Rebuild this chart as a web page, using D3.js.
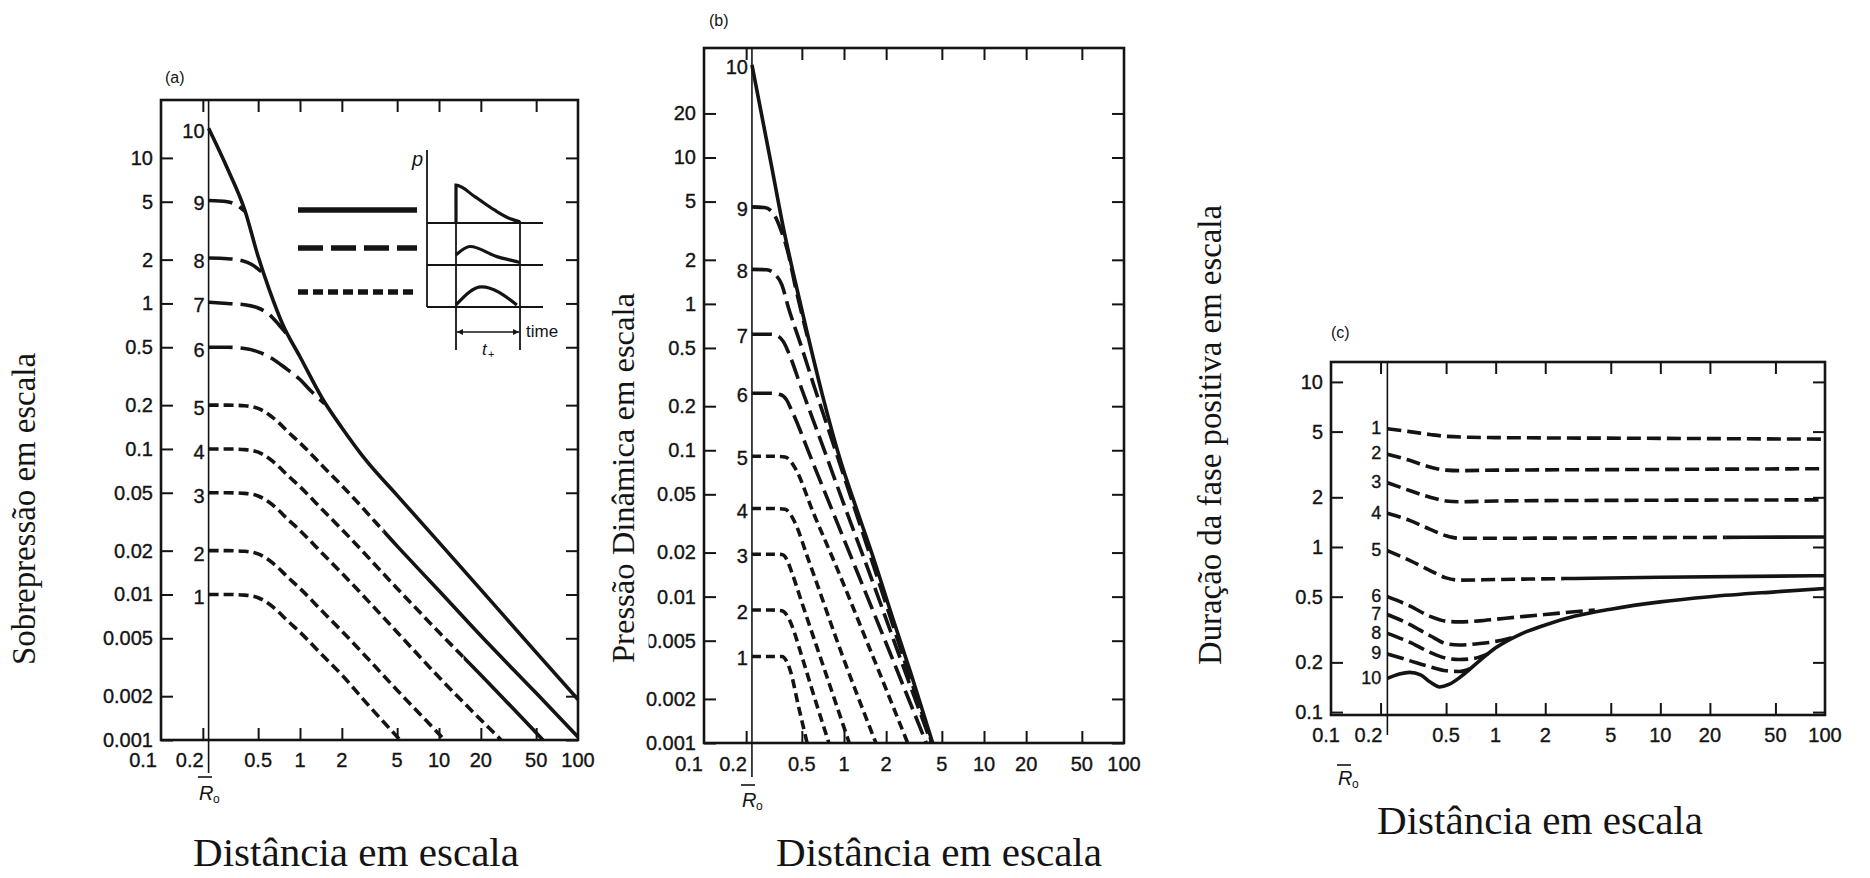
<!DOCTYPE html>
<html>
<head>
<meta charset="utf-8">
<script src="https://cdn.jsdelivr.net/npm/d3@7"></script>
<style>
  html, body { margin: 0; padding: 0; background: #fff; }
  svg { display: block; }
  .num { font-family: "Liberation Sans", Arial, sans-serif; font-size: 20px; fill: #141414; stroke: #141414; stroke-width: 0.35px; }
  .title { font-family: "Liberation Serif", "Times New Roman", serif; fill: #141414; }
  .small { font-family: "Liberation Sans", Arial, sans-serif; fill: #141414; }
</style>
</head>
<body>
<svg id="chart" width="1870" height="878"></svg>
<script>
// ---------- data ----------
const scaledRadius = 0.22;                       // R̄o, start of every curve
const curveNames = ["1","2","3","4","5","6","7","8","9","10"];
const distanceTicks = [0.1, 0.2, 0.5, 1, 2, 5, 10, 20, 50, 100];
const overpressureTicks = [10, 5, 2, 1, 0.5, 0.2, 0.1, 0.05, 0.02, 0.01, 0.005, 0.002, 0.001];
const dynamicTicks = [20, 10, 5, 2, 1, 0.5, 0.2, 0.1, 0.05, 0.02, 0.01, 0.005, 0.002, 0.001];
const durationTicks = [10, 5, 2, 1, 0.5, 0.2, 0.1];

// (a) scaled overpressure vs scaled distance
const overpressure = [
  [[0.22,0.01],[0.3,0.01],[0.4,0.0099],[0.5,0.0095],[0.6,0.0086],[0.7,0.0076],[0.8,0.0067],[1,0.0055],[1.5,0.0037],[2,0.0028],[3,0.0018],[5.25,0.001]],
  [[0.22,0.02],[0.3,0.02],[0.4,0.0198],[0.5,0.019],[0.6,0.0172],[0.7,0.0152],[0.8,0.0134],[1,0.011],[1.5,0.0074],[2,0.0056],[5,0.0022],[11,0.001]],
  [[0.22,0.05],[0.3,0.05],[0.4,0.0495],[0.5,0.0475],[0.6,0.043],[0.7,0.038],[0.8,0.0335],[1,0.0275],[1.5,0.0185],[2,0.014],[5,0.0055],[10,0.0027],[28,0.001]],
  [[0.22,0.1],[0.3,0.1],[0.4,0.099],[0.5,0.095],[0.6,0.086],[0.7,0.076],[0.8,0.067],[1,0.055],[1.5,0.037],[2,0.028],[5,0.011],[10,0.0055],[20,0.0028],[56,0.001]],
  [[0.22,0.2],[0.3,0.2],[0.4,0.198],[0.5,0.19],[0.6,0.172],[0.7,0.152],[0.8,0.134],[1,0.11],[1.5,0.074],[2,0.056],[5,0.0215],[10,0.0106],[20,0.0052],[50,0.0021],[100,0.00105]],
  [[0.22,0.5],[0.3,0.5],[0.4,0.49],[0.5,0.465],[0.6,0.43],[0.8,0.355],[1,0.3],[1.2,0.25],[1.5,0.205]],
  [[0.22,1.02],[0.3,1.0],[0.4,0.98],[0.5,0.93],[0.6,0.84],[0.7,0.72],[0.8,0.62]],
  [[0.22,2.05],[0.3,2.03],[0.38,1.97],[0.45,1.85],[0.5,1.72],[0.55,1.6]],
  [[0.22,5.1],[0.3,5.0],[0.35,4.75],[0.4,4.3]],
  [[0.22,16],[0.3,8.5],[0.4,4.4],[0.5,2.1],[0.6,1.25],[0.75,0.72],[1,0.43],[1.5,0.21],[2,0.14],[3,0.083],[5,0.048],[10,0.0228],[20,0.0108],[50,0.004],[100,0.0019]]
];

// (b) scaled dynamic pressure vs scaled distance
const dynamicPressure = [
  [[0.22,0.0039],[0.3,0.0039],[0.36,0.0039],[0.39,0.0036],[0.41,0.0032],[0.475,0.00175],[0.545,0.001]],
  [[0.22,0.0081],[0.3,0.0081],[0.36,0.008],[0.39,0.0075],[0.42,0.0065],[0.5,0.0039],[0.61,0.0021],[0.78,0.001]],
  [[0.22,0.0195],[0.3,0.0195],[0.36,0.0194],[0.39,0.018],[0.42,0.015],[0.5,0.0091],[0.74,0.003],[1.09,0.001]],
  [[0.22,0.04],[0.3,0.04],[0.38,0.0395],[0.41,0.037],[0.44,0.033],[0.56,0.0176],[0.97,0.004],[1.69,0.001]],
  [[0.22,0.091],[0.3,0.091],[0.38,0.09],[0.42,0.083],[0.45,0.075],[0.6,0.038],[0.87,0.0165],[1.5,0.0046],[2.85,0.001]],
  [[0.22,0.245],[0.3,0.245],[0.35,0.24],[0.39,0.22],[0.42,0.19],[0.6,0.082],[1.2,0.016],[2,0.0048],[3.87,0.001]],
  [[0.22,0.62],[0.3,0.62],[0.34,0.6],[0.37,0.55],[0.4,0.47],[0.5,0.26],[0.7,0.109],[1,0.0425],[1.5,0.015],[2.6,0.0035],[4.2,0.001]],
  [[0.22,1.72],[0.28,1.71],[0.32,1.6],[0.36,1.35],[0.4,0.95],[0.5,0.5],[0.6,0.29],[0.88,0.096],[1.6,0.017],[3,0.0027],[4.25,0.001]],
  [[0.22,4.6],[0.27,4.55],[0.31,4.2],[0.35,3.3],[0.4,2.2],[0.45,1.3],[0.5,0.85],[0.547,0.6]],
  [[0.22,43],[0.3,9.3],[0.374,3.1],[0.45,1.4],[0.547,0.63],[0.7,0.24],[0.94,0.086],[1.25,0.038],[1.64,0.0178],[2.2,0.0074],[3,0.003],[4.3,0.001]]
];

// (c) scaled positive-phase duration vs scaled distance
const positiveDuration = [
  [[0.22,5.2],[0.3,5.0],[0.4,4.8],[0.5,4.68],[0.7,4.62],[1,4.6],[10,4.55],[100,4.5]],
  [[0.22,3.65],[0.3,3.35],[0.4,3.05],[0.5,2.92],[0.6,2.9],[1,2.92],[10,2.95],[100,2.98]],
  [[0.22,2.45],[0.3,2.2],[0.4,2.0],[0.5,1.9],[0.6,1.88],[1,1.9],[10,1.92],[100,1.93]],
  [[0.22,1.6],[0.3,1.45],[0.4,1.28],[0.5,1.17],[0.6,1.13],[1,1.13],[10,1.14],[100,1.15]],
  [[0.22,0.95],[0.3,0.83],[0.4,0.72],[0.5,0.65],[0.6,0.63],[1,0.635],[3,0.645],[10,0.655],[100,0.67]],
  [[0.22,0.5],[0.3,0.44],[0.4,0.38],[0.5,0.355],[0.6,0.352],[0.8,0.357],[1,0.365],[1.5,0.38],[2,0.39],[3,0.405],[4,0.415]],
  [[0.22,0.39],[0.3,0.34],[0.4,0.29],[0.5,0.26],[0.6,0.255],[0.8,0.26],[1,0.268],[1.3,0.285]],
  [[0.22,0.3],[0.3,0.265],[0.4,0.23],[0.5,0.212],[0.6,0.208],[0.75,0.212],[0.9,0.225]],
  [[0.22,0.225],[0.3,0.205],[0.4,0.188],[0.5,0.178],[0.6,0.176],[0.7,0.183]],
  [[0.22,0.16],[0.26,0.17],[0.3,0.174],[0.35,0.168],[0.4,0.152],[0.456,0.142],[0.52,0.147],[0.62,0.165],[0.8,0.205],[1,0.245],[1.4,0.295],[2,0.337],[3,0.38],[5,0.42],[10,0.465],[20,0.5],[50,0.535],[100,0.56]]
];

// pressure–time shapes in the legend of (a): [time fraction, relative pressure]
const shockWave    = [[0,0.9],[0.3,0.62],[0.6,0.31],[0.85,0.1],[1,0.03]];
const rampedWave   = [[0,0.24],[0.22,0.44],[0.64,0.2],[0.95,0.08],[1,0.06]];
const pressureWave = [[0,0.05],[0.4,0.48],[0.95,0.05]];

// ---------- layout & style ----------
const ink = "#141414";
const dashes = {
  a: { short: "10,5", long: "24,8" },
  b: { short: "9,5",  long: "20,7" },
  c: { short: "14,6", long: "17,6" }
};

const panels = [
  { key: "a", curves: overpressure, yTicks: overpressureTicks,
    left: 161, right: 578, top: 100, bottom: 740, yMin: 0.001, yMax: 25,
    styles: ["short","short","short","short","short","long","long","long","long","solid"],
    solidFrom: { 3: 15, 4: 4 },
    labelGap: 4, labelDy: 3, labelSize: 20, xLabelY: 767, tenthDx: -4, roLineEnd: 773,
    ro: { x: 199, y: 800, barY: 777 },
    tag: { text: "(a)", x: 165, y: 83 },
    yTitle: { text: "Sobrepressão em escala", x: 35, y: 509, size: 33, len: 312 },
    xTitle: { x: 356, y: 866 } },
  { key: "b", curves: dynamicPressure, yTicks: dynamicTicks,
    left: 704, right: 1124, top: 48, bottom: 743, yMin: 0.001, yMax: 56,
    styles: ["short","short","short","short","short","long","long","long","long","solid"],
    solidFrom: {},
    labelGap: 4, labelDy: 2, labelSize: 20, xLabelY: 771, tenthDx: -1, roLineEnd: 777,
    ro: { x: 742, y: 807, barY: 785 },
    tag: { text: "(b)", x: 709, y: 26 },
    yTitle: { text: "Pressão Dinâmica em escala", x: 634, y: 478, size: 32.5, len: 370, mask: true },
    xTitle: { x: 939, y: 866 } },
  { key: "c", curves: positiveDuration, yTicks: durationTicks,
    left: 1331, right: 1825, top: 362, bottom: 715, yMin: 0.096, yMax: 13.2,
    styles: ["short","short","short","short","short","long","long","long","long","solid"],
    solidFrom: { 3: 25, 4: 2.5 },
    labelGap: 6, labelDy: -1, labelSize: 18, xLabelY: 742, tenthDx: 9, roLineEnd: 735,
    ro: { x: 1338, y: 785, barY: 765 },
    tag: { text: "(c)", x: 1331, y: 338 },
    yTitle: { text: "Duração da fase positiva em escala", x: 1221, y: 435, size: 34, len: 460 },
    xTitle: { x: 1540, y: 834 } }
];

const svg = d3.select("#chart");
const defs = svg.append("defs");
defs.append("marker")
  .attr("id", "arrow").attr("viewBox", "0 0 10 10").attr("refX", 10).attr("refY", 5)
  .attr("markerWidth", 8).attr("markerHeight", 6).attr("orient", "auto-start-reverse")
  .attr("markerUnits", "userSpaceOnUse")
  .append("path").attr("d", "M0,0 L10,5 L0,10 z").attr("fill", ink);

function styleAxis(sel) {
  sel.select(".domain").remove();
  sel.selectAll(".tick line").attr("stroke", ink).attr("stroke-width", 2);
  sel.selectAll(".tick text").attr("class", "num").attr("fill", null);
}

function drawPanel(p) {
  const g = svg.append("g").attr("class", "panel-" + p.key);
  const x = d3.scaleLog().domain([0.1, 100]).range([p.left, p.right]);
  const y = d3.scaleLog().domain([p.yMin, p.yMax]).range([p.bottom, p.top]);
  const dash = dashes[p.key];

  // inward ticks on all four sides
  g.append("g").attr("transform", `translate(${p.left},0)`)
    .call(d3.axisLeft(y).tickValues(p.yTicks).tickFormat(d => String(d))
      .tickSizeInner(-12).tickSizeOuter(0).tickPadding(8))
    .call(styleAxis);
  g.append("g").attr("transform", `translate(${p.right},0)`)
    .call(d3.axisRight(y).tickValues(p.yTicks).tickFormat("")
      .tickSizeInner(-12).tickSizeOuter(0))
    .call(styleAxis);
  const inner = distanceTicks.filter(v => v > 0.1 && v < 100);
  g.append("g").attr("transform", `translate(0,${p.top})`)
    .call(d3.axisTop(x).tickValues(inner).tickFormat("").tickSizeInner(-12).tickSizeOuter(0))
    .call(styleAxis);
  g.append("g").attr("transform", `translate(0,${p.bottom})`)
    .call(d3.axisBottom(x).tickValues(inner).tickFormat("").tickSizeInner(-12).tickSizeOuter(0))
    .call(styleAxis);

  // distance labels (0.1 and 0.2 squeezed left of the R̄o line)
  g.selectAll("text.xl").data(distanceTicks).enter().append("text")
    .attr("class", "num")
    .attr("x", d => d === 0.2 ? x(scaledRadius) - 5 : d === 0.1 ? x(0.1) + p.tenthDx : x(d))
    .attr("y", p.xLabelY)
    .attr("text-anchor", d => d <= 0.2 ? "end" : "middle")
    .text(d => String(d));

  // frame
  g.append("rect")
    .attr("x", p.left).attr("y", p.top)
    .attr("width", p.right - p.left).attr("height", p.bottom - p.top)
    .attr("fill", "none").attr("stroke", ink).attr("stroke-width", 2.6);

  // R̄o line and label
  g.append("line")
    .attr("x1", x(scaledRadius)).attr("x2", x(scaledRadius))
    .attr("y1", p.top).attr("y2", p.roLineEnd)
    .attr("stroke", ink).attr("stroke-width", 1.6);
  g.append("line")
    .attr("x1", p.ro.x - 1).attr("x2", p.ro.x + 13)
    .attr("y1", p.ro.barY).attr("y2", p.ro.barY)
    .attr("stroke", ink).attr("stroke-width", 1.6);
  g.append("text").attr("class", "small")
    .attr("x", p.ro.x).attr("y", p.ro.y)
    .attr("font-size", 20).attr("font-style", "italic").text("R");
  g.append("text").attr("class", "small")
    .attr("x", p.ro.x + 14).attr("y", p.ro.y + 3)
    .attr("font-size", 12).text("o");

  // curves
  const line = d3.line().x(d => x(d[0])).y(d => y(d[1])).curve(d3.curveMonotoneX);
  p.curves.forEach((pts, i) => {
    const style = p.styles[i];
    const d = line(pts);
    const dashArray = style === "solid" ? null : dash[style];
    const split = p.solidFrom[i];
    const addPath = (da, clip) => {
      const path = g.append("path")
        .attr("d", d).attr("fill", "none")
        .attr("stroke", ink).attr("stroke-width", 3.6)
        .attr("stroke-linejoin", "round")
        .attr("stroke-dasharray", da);
      if (clip) path.attr("clip-path", `url(#${clip})`);
    };
    if (split) {
      const id1 = `clip-${p.key}-${i}-d`, id2 = `clip-${p.key}-${i}-s`;
      defs.append("clipPath").attr("id", id1).append("rect")
        .attr("x", 0).attr("y", 0).attr("width", x(split)).attr("height", 878);
      defs.append("clipPath").attr("id", id2).append("rect")
        .attr("x", x(split)).attr("y", 0).attr("width", 1870 - x(split)).attr("height", 878);
      addPath(dashArray, id1);
      addPath(null, id2);
    } else {
      addPath(dashArray, null);
    }
    g.append("text").attr("class", "num")
      .attr("x", x(scaledRadius) - p.labelGap)
      .attr("y", y(pts[0][1]) + p.labelDy)
      .attr("dy", "0.35em")
      .attr("text-anchor", "end")
      .style("font-size", p.labelSize + "px")
      .text(curveNames[i]);
  });

  // panel tag
  g.append("text").attr("class", "small")
    .attr("x", p.tag.x).attr("y", p.tag.y).attr("font-size", 16).text(p.tag.text);

  // axis titles
  const yt = p.yTitle;
  const tg = g.append("g").attr("transform", `translate(${yt.x},${yt.y}) rotate(-90)`);
  if (yt.mask) {
    tg.append("rect").attr("x", -yt.len / 2 - 4).attr("y", -yt.size * 0.95)
      .attr("width", yt.len + 8).attr("height", yt.size * 1.4).attr("fill", "#fff");
  }
  tg.append("text").attr("class", "title")
    .attr("text-anchor", "middle").attr("font-size", yt.size)
    .attr("textLength", yt.len).attr("lengthAdjust", "spacingAndGlyphs")
    .text(yt.text);
  g.append("text").attr("class", "title")
    .attr("x", p.xTitle.x).attr("y", p.xTitle.y)
    .attr("text-anchor", "middle").attr("font-size", 40)
    .attr("textLength", 326).attr("lengthAdjust", "spacingAndGlyphs")
    .text("Distância em escala");
}

panels.forEach(drawPanel);

// ---------- legend of (a): line style vs. pressure–time shape ----------
(function legend() {
  const g = svg.append("g").attr("class", "legend");
  const t = d3.scaleLinear().domain([0, 1]).range([456, 520]);
  const rows = [
    { base: 223, wave: shockWave,    sample: 210, dash: null },
    { base: 265, wave: rampedWave,   sample: 248, dash: "25,8" },
    { base: 307, wave: pressureWave, sample: 292, dash: "10,5" }
  ];
  const axisX = 427, lineEnd = 543;

  rows.forEach((r, i) => {
    g.append("line").attr("x1", 298).attr("x2", 417)
      .attr("y1", r.sample).attr("y2", r.sample)
      .attr("stroke", ink).attr("stroke-width", 5.5)
      .attr("stroke-dasharray", r.dash);
    g.append("line").attr("x1", axisX).attr("x2", lineEnd)
      .attr("y1", r.base).attr("y2", r.base)
      .attr("stroke", ink).attr("stroke-width", 1.8);
    const p = d3.scaleLinear().domain([0, 1]).range([r.base, r.base - 42]);
    const shape = i === 0 ? [[0, 0]].concat(r.wave) : r.wave;
    g.append("path")
      .attr("d", d3.line().x(d => t(d[0])).y(d => p(d[1])).curve(d3.curveMonotoneX)(shape))
      .attr("fill", "none").attr("stroke", ink).attr("stroke-width", 3.2);
  });

  // p axis and the two time markers
  g.append("line").attr("x1", axisX).attr("x2", axisX).attr("y1", 150).attr("y2", 307)
    .attr("stroke", ink).attr("stroke-width", 1.8);
  g.append("line").attr("x1", t(0)).attr("x2", t(0)).attr("y1", 184).attr("y2", 350)
    .attr("stroke", ink).attr("stroke-width", 1.8);
  g.append("line").attr("x1", t(1)).attr("x2", t(1)).attr("y1", 221).attr("y2", 350)
    .attr("stroke", ink).attr("stroke-width", 1.8);
  g.append("line").attr("x1", t(0) + 1).attr("x2", t(1) - 1).attr("y1", 332).attr("y2", 332)
    .attr("stroke", ink).attr("stroke-width", 1.6)
    .attr("marker-start", "url(#arrow)").attr("marker-end", "url(#arrow)");

  g.append("text").attr("class", "small").attr("x", 412).attr("y", 166)
    .attr("font-size", 20).attr("font-style", "italic").text("p");
  g.append("text").attr("class", "small").attr("x", 526).attr("y", 337)
    .attr("font-size", 17).text("time");
  g.append("text").attr("class", "small").attr("x", 482).attr("y", 355)
    .attr("font-size", 17).attr("font-style", "italic").text("t");
  g.append("text").attr("class", "small").attr("x", 488).attr("y", 358)
    .attr("font-size", 11).text("+");
})();
</script>
</body>
</html>
